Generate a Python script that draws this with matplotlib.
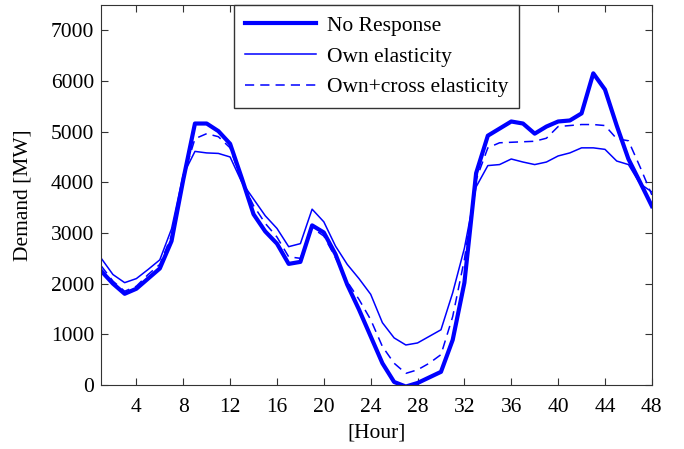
import numpy as np
import matplotlib
matplotlib.use("Agg")
import matplotlib.pyplot as plt

plt.rcParams['font.family'] = ['Liberation Serif', 'DejaVu Serif']

hours = list(range(1, 49))

no_response = [2250, 2000, 1800, 1900, 2100, 2300, 2840, 4050, 5160, 5160,
               5010, 4760, 4080, 3370, 3030, 2790, 2390, 2430, 3150, 3010,
               2580, 1980, 1490, 960, 430, 60, -30, 40, 150, 260,
               890, 2020, 4180, 4920, 5060, 5200, 5160, 4960, 5100, 5200,
               5220, 5360, 6150, 5830, 5120, 4460, 4000, 3530]

own = [2500, 2180, 2020, 2100, 2280, 2470, 3080, 4150, 4610, 4580,
       4570, 4500, 4000, 3670, 3340, 3090, 2730, 2790, 3470, 3220,
       2740, 2380, 2100, 1790, 1230, 930, 790, 830, 960, 1090,
       1820, 2700, 3910, 4330, 4350, 4460, 4400, 4350, 4400, 4520,
       4580, 4680, 4680, 4650, 4420, 4350, 3970, 3810]

own_cross = [2350, 2050, 1850, 1950, 2180, 2380, 2950, 4100, 4860, 4960,
             4900, 4680, 4020, 3540, 3190, 2920, 2530, 2500, 3100, 2940,
             2510, 2040, 1690, 1290, 760, 430, 230, 300, 430, 600,
             1350, 2480, 4050, 4680, 4780, 4790, 4800, 4810, 4870, 5100,
             5120, 5140, 5140, 5120, 4860, 4820, 4300, 3750]

fig = plt.figure(figsize=(6.84, 4.49), dpi=100)
ax = fig.add_axes([0.148, 0.1425, 0.805, 0.8465])

ax.plot(hours, no_response, color='#0000ff', lw=3.0, label='No Response')
ax.plot(hours, own, color='#0000ff', lw=1.1, label='Own elasticity')
ax.plot(hours, own_cross, color='#0000ff', lw=1.1, ls=(0, (6, 4)),
        label='Own+cross elasticity')

ax.set_xlim(1, 48)
ax.set_ylim(0, 7500)
ax.set_xticks(range(4, 49, 4))
ax.set_yticks(range(0, 7001, 1000))
ax.tick_params(direction='in', top=True, right=True, labelsize=15.5,
               length=5, color='#333333')
ax.tick_params(axis='x', pad=9)
ax.tick_params(axis='y', pad=5)
for s in ax.spines.values():
    s.set_color('#333333')
ax.set_xlabel('[Hour]', fontsize=15.5, labelpad=5)
ax.set_ylabel('Demand [MW]', fontsize=15.5, labelpad=13)

leg = ax.legend(loc='upper center', borderaxespad=0, fontsize=15.5,
                fancybox=False, framealpha=1, handlelength=3.3,
                edgecolor='#333333', borderpad=0.5, labelspacing=0.5,
                handletextpad=0.5)
leg.get_frame().set_linewidth(1.0)

fig.savefig('out.png', dpi=100)
